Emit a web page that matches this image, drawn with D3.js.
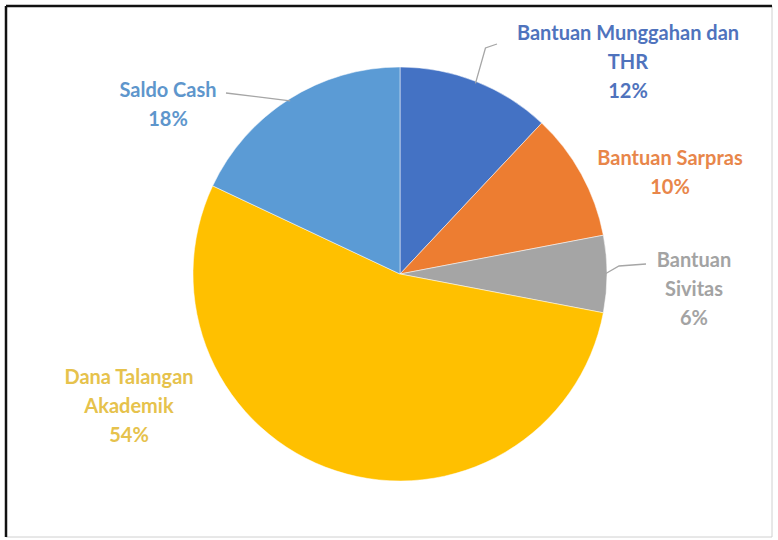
<!DOCTYPE html>
<html>
<head>
<meta charset="utf-8">
<script src="https://cdn.jsdelivr.net/npm/d3@7"></script>
<style>
  body { margin: 0; background: #fff; }
  svg { display: block; }
  .lbl { font-family: Lato, "Open Sans", sans-serif; font-weight: bold; }
</style>
</head>
<body>
<div id="pie-chart"></div>
<script>
// data
var categories = ["Bantuan Munggahan dan THR", "Bantuan Sarpras", "Bantuan Sivitas", "Dana Talangan Akademik", "Saldo Cash"];
var values = [12, 10, 6, 54, 18];
var labelLines = [["Bantuan Munggahan dan", "THR"], ["Bantuan Sarpras"], ["Bantuan", "Sivitas"], ["Dana Talangan", "Akademik"], ["Saldo Cash"]];
var colors = ["#4472C4", "#ED7D31", "#A5A5A5", "#FFC000", "#5B9BD5"];
var textColors = ["#4F73BD", "#E8864A", "#A3A3A3", "#E6C24C", "#5E96CC"];

var width = 778, height = 540;
var cx = 400, cy = 274, radius = 207;

// where each label block sits (middle of the block), and whether it has a leader line
var labelAt = [[628, 62], [670, 172], [694, 289], [129, 406], [168, 104]];
var leader = [true, false, true, false, true];
var lineH = 29;

var svg = d3.select("#pie-chart").append("svg")
    .attr("width", width)
    .attr("height", height);

// frame
svg.append("line").attr("x1", 772).attr("y1", 6).attr("x2", 772).attr("y2", 537).style("stroke", "#d0d0d0").style("stroke-width", 1);
svg.append("line").attr("x1", 6).attr("y1", 537).attr("x2", 772).attr("y2", 537).style("stroke", "#d0d0d0").style("stroke-width", 1);
svg.append("line").attr("x1", 6).attr("y1", 6).attr("x2", 772).attr("y2", 6).style("stroke", "#111").style("stroke-width", 2.5);
svg.append("line").attr("x1", 6).attr("y1", 6).attr("x2", 6).attr("y2", 537).style("stroke", "#111").style("stroke-width", 2.5);

var pie = d3.pie().sort(null).value(function(d) { return d; });
var arc = d3.arc().innerRadius(0).outerRadius(radius);
var arcs = pie(values);

var g = svg.append("g").attr("transform", "translate(" + cx + "," + cy + ")");

g.selectAll("path.slice")
    .data(arcs)
    .enter().append("path")
    .attr("class", "slice")
    .attr("d", arc)
    .style("fill", function(d, i) { return colors[i]; })
    .style("stroke", "#fff")
    .style("stroke-width", 0.5);

// leader lines: from the arc edge at the slice middle to the label side
function edgePoint(d, r) {
  var a = (d.startAngle + d.endAngle) / 2;
  return [cx + Math.sin(a) * r, cy - Math.cos(a) * r];
}

arcs.forEach(function(d, i) {
  if (!leader[i]) return;
  var p0 = edgePoint(d, radius - 2);
  var lab = labelAt[i];
  var pts;
  if (i === 0) {
    pts = [p0, [p0[0] + 10, lab[1] - 14], [lab[0] - 131, lab[1] - 18]];
  } else if (i === 2) {
    pts = [p0, [p0[0] + 14, lab[1] - 23], [lab[0] - 48, lab[1] - 25]];
  } else {
    pts = [p0, [p0[0] - 24, p0[1] - 3], [lab[0] + 58, lab[1] - 11]];
  }
  svg.append("path")
      .attr("d", d3.line()(pts))
      .style("fill", "none")
      .style("stroke", "#a6a6a6")
      .style("stroke-width", 1.3);
});

// labels
arcs.forEach(function(d, i) {
  var lines = labelLines[i].concat([Math.round(d.data) + "%"]);
  var top = labelAt[i][1] - (lines.length - 1) * lineH / 2;
  var t = svg.append("text")
      .attr("class", "lbl")
      .attr("text-anchor", "middle")
      .style("fill", textColors[i])
      .style("font-size", "20px");
  lines.forEach(function(s, k) {
    t.append("tspan")
        .attr("x", labelAt[i][0])
        .attr("y", top + k * lineH)
        .attr("dy", "0.35em")
        .text(s);
  });
});
</script>
</body>
</html>
